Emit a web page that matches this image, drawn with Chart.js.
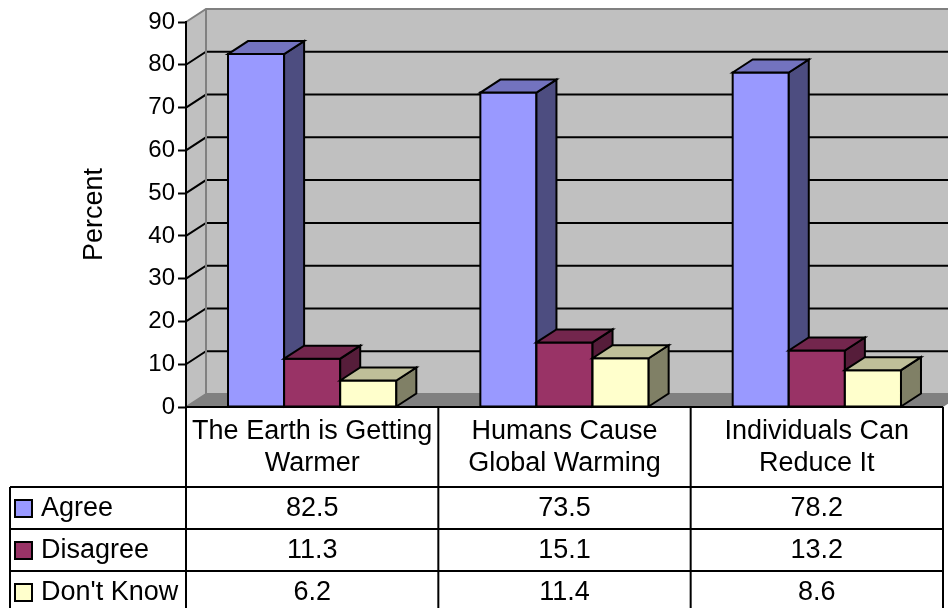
<!DOCTYPE html>
<html>
<head>
<meta charset="utf-8">
<script src="https://cdn.jsdelivr.net/npm/chart.js@4/dist/chart.umd.min.js"></script>
<style>body{margin:0;background:#fff}</style>
</head>
<body>
<canvas id="barchart" width="948" height="608"></canvas>
<script>
var categories = [['The Earth is Getting', 'Warmer'], ['Humans Cause', 'Global Warming'], ['Individuals Can', 'Reduce It']];
var seriesNames = ['Agree', 'Disagree', "Don't Know"];
var agree = [82.5, 73.5, 78.2];
var disagree = [11.3, 15.1, 13.2];
var dontKnow = [6.2, 11.4, 8.6];
var yTicks = [0, 10, 20, 30, 40, 50, 60, 70, 80, 90];

var frontColors = ['#9999ff', '#993366', '#ffffcc'];
var sideColors = ['#4d4d80', '#561d3a', '#808066'];
var topColors = ['#7373bf', '#73264d', '#bfbf99'];
var DX = 20, DY = -13;
var FONT = '"Liberation Sans", Arial, sans-serif';

function poly(c, pts, fill, stroke) {
    c.beginPath();
    c.moveTo(pts[0][0], pts[0][1]);
    for (var i = 1; i < pts.length; i++) c.lineTo(pts[i][0], pts[i][1]);
    c.closePath();
    if (fill) { c.fillStyle = fill; c.fill(); }
    if (stroke) { c.strokeStyle = stroke; c.stroke(); }
}

var box3d = {
    id: 'box3d',
    beforeDraw: function (chart) {
        var a = chart.chartArea, y = chart.scales.y, c = chart.ctx, W = chart.width;
        c.save();
        c.lineWidth = 2;
        // back wall, left wall, floor
        c.fillStyle = '#c0c0c0';
        c.fillRect(a.left + DX, a.top + DY, W, a.bottom - a.top);
        poly(c, [[a.left, a.top], [a.left + DX, a.top + DY], [a.left + DX, a.bottom + DY], [a.left, a.bottom]], '#c0c0c0');
        poly(c, [[a.left, a.bottom], [a.left + DX, a.bottom + DY], [a.right + DX, a.bottom + DY], [a.right, a.bottom]], '#808080');
        // gridlines
        c.strokeStyle = '#000';
        yTicks.forEach(function (v) {
            if (v <= 0 || v >= 90) return;
            var py = y.getPixelForValue(v);
            c.beginPath();
            c.moveTo(a.left, py);
            c.lineTo(a.left + DX, py + DY);
            c.lineTo(W, py + DY);
            c.stroke();
        });
        // wall edges
        c.strokeStyle = '#808080';
        c.beginPath();
        c.moveTo(a.left, a.top);
        c.lineTo(a.left + DX, a.top + DY);
        c.lineTo(W, a.top + DY);
        c.moveTo(a.left + DX, a.top + DY);
        c.lineTo(a.left + DX, a.bottom + DY);
        c.lineTo(W, a.bottom + DY);
        c.moveTo(a.left, a.bottom);
        c.lineTo(a.left + DX, a.bottom + DY);
        c.stroke();
        c.restore();
    },
    afterDatasetsDraw: function (chart) {
        var c = chart.ctx;
        c.save();
        c.lineWidth = 2;
        c.lineJoin = 'miter';
        for (var i = 0; i < categories.length; i++) {
            for (var d = 0; d < chart.data.datasets.length; d++) {
                var el = chart.getDatasetMeta(d).data[i];
                var x0 = el.x - el.width / 2, x1 = el.x + el.width / 2, yt = el.y, yb = el.base;
                poly(c, [[x0, yt], [x1, yt], [x1, yb], [x0, yb]], frontColors[d], '#000');
                poly(c, [[x1, yt], [x1 + DX, yt + DY], [x1 + DX, yb + DY], [x1, yb]], sideColors[d], '#000');
                poly(c, [[x0, yt], [x0 + DX, yt + DY], [x1 + DX, yt + DY], [x1, yt]], topColors[d], '#000');
            }
        }
        c.restore();
    },
    afterDraw: function (chart) {
        var a = chart.chartArea, xs = chart.scales.x, c = chart.ctx, H = chart.height;
        var rows = [agree, disagree, dontKnow];
        var headBottom = a.bottom + 80, rowH = 42, legLeft = 10;
        var half = (a.right - a.left) / categories.length / 2;
        c.save();
        c.strokeStyle = '#000';
        c.lineWidth = 2;
        c.beginPath();
        c.moveTo(a.left, a.bottom); c.lineTo(a.right, a.bottom);
        c.moveTo(a.left, a.bottom); c.lineTo(a.left, H);
        c.moveTo(legLeft, headBottom); c.lineTo(legLeft, H);
        for (var i = 0; i < categories.length; i++) {
            var xr = xs.getPixelForTick(i) + half;
            c.moveTo(xr, a.bottom); c.lineTo(xr, H);
        }
        for (var r = 0; r < rows.length; r++) {
            var ry = headBottom + r * rowH;
            c.moveTo(legLeft, ry); c.lineTo(a.right, ry);
        }
        c.stroke();

        c.fillStyle = '#000';
        c.font = '27px ' + FONT;
        c.textAlign = 'center';
        c.textBaseline = 'middle';
        categories.forEach(function (lines, i) {
            var cx = xs.getPixelForTick(i);
            lines.forEach(function (t, k) { c.fillText(t, cx, a.bottom + 25 + k * 32); });
            rows.forEach(function (vals, r) {
                c.fillText(vals[i].toFixed(1), cx, headBottom + r * rowH + rowH / 2 + 1);
            });
        });
        seriesNames.forEach(function (name, r) {
            var cy = headBottom + r * rowH + rowH / 2;
            c.fillStyle = frontColors[r];
            c.fillRect(15, cy - 8, 17, 17);
            c.strokeRect(15, cy - 8, 17, 17);
            c.fillStyle = '#000';
            c.textAlign = 'left';
            c.fillText(name, 41, cy + 1);
        });
        c.restore();
    }
};

var ctx = document.getElementById('barchart').getContext('2d');
var myChart = new Chart(ctx, {
    type: 'bar',
    data: {
        labels: categories,
        datasets: [
            { label: seriesNames[0], data: agree, backgroundColor: frontColors[0] },
            { label: seriesNames[1], data: disagree, backgroundColor: frontColors[1] },
            { label: seriesNames[2], data: dontKnow, backgroundColor: frontColors[2] }
        ]
    },
    options: {
        responsive: false,
        animation: false,
        categoryPercentage: 0.667,
        barPercentage: 1,
        layout: { padding: { left: 10, top: 22, right: 5, bottom: 201 } },
        plugins: { legend: { display: false }, tooltip: { enabled: false } },
        scales: {
            x: { display: false },
            y: {
                min: 0, max: 90,
                ticks: { stepSize: 10, color: '#000', font: { family: FONT, size: 24 }, padding: 3 },
                grid: { drawOnChartArea: false, tickLength: 8, tickColor: '#000', tickWidth: 2, color: '#000' },
                border: { display: true, color: '#000', width: 2 },
                title: { display: true, text: 'Percent', color: '#000', font: { family: FONT, size: 27 }, padding: { top: 68, bottom: 0 } },
                afterFit: function (s) { s.width = 176; }
            }
        }
    },
    plugins: [box3d]
});
</script>
</body>
</html>
